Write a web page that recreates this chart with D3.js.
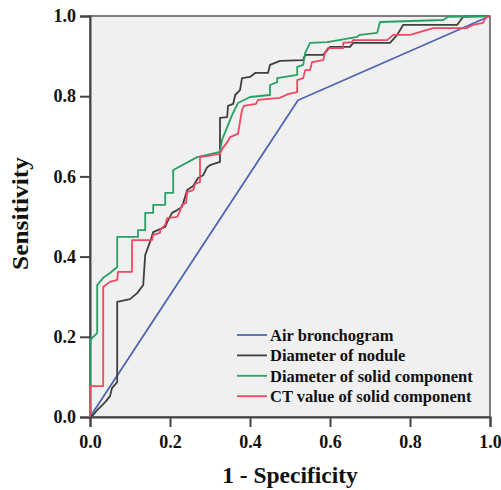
<!DOCTYPE html>
<html>
<head>
<meta charset="utf-8">
<script src="https://cdn.jsdelivr.net/npm/d3@7"></script>
<style>
  body { margin: 0; background: #fff; }
  text { font-family: "Liberation Serif", "DejaVu Serif", serif; font-weight: bold; }
</style>
</head>
<body>
<div id="chart"></div>
<script>
// ROC curves, [1 - specificity, sensitivity]
const airBronchogram = [[0, 0], [0.52, 0.79], [1, 1]];

const diameterNodule = [
  [0, 0], [0.008, 0.005], [0.018, 0.017], [0.038, 0.037], [0.05, 0.052], [0.055, 0.072],
  [0.068, 0.087], [0.068, 0.287], [0.1, 0.294], [0.118, 0.309], [0.133, 0.329], [0.138, 0.404],
  [0.15, 0.436], [0.158, 0.461], [0.188, 0.474], [0.193, 0.486], [0.205, 0.509], [0.218, 0.516],
  [0.23, 0.524], [0.243, 0.566], [0.258, 0.576], [0.27, 0.596], [0.283, 0.603], [0.293, 0.623],
  [0.3, 0.628], [0.325, 0.636], [0.325, 0.746], [0.343, 0.748], [0.345, 0.776], [0.358, 0.781],
  [0.363, 0.803], [0.375, 0.815], [0.38, 0.845], [0.4, 0.848], [0.413, 0.858], [0.445, 0.858],
  [0.45, 0.878], [0.475, 0.888], [0.533, 0.89], [0.538, 0.903], [0.583, 0.903], [0.6, 0.923],
  [0.65, 0.923], [0.658, 0.933], [0.75, 0.933], [0.768, 0.953], [0.783, 0.978], [0.918, 0.978],
  [0.933, 0.998], [1, 1]
];

const diameterSolid = [
  [0, 0], [0, 0.192], [0.018, 0.209], [0.018, 0.329], [0.033, 0.347], [0.05, 0.359],
  [0.068, 0.374], [0.068, 0.449], [0.12, 0.449], [0.12, 0.466], [0.138, 0.466], [0.138, 0.509],
  [0.158, 0.509], [0.158, 0.529], [0.188, 0.529], [0.188, 0.559], [0.208, 0.559], [0.208, 0.616],
  [0.268, 0.648], [0.325, 0.661], [0.33, 0.691], [0.343, 0.723], [0.355, 0.753], [0.37, 0.783],
  [0.4, 0.798], [0.45, 0.803], [0.45, 0.828], [0.468, 0.835], [0.468, 0.845], [0.518, 0.853],
  [0.518, 0.873], [0.533, 0.878], [0.538, 0.908], [0.55, 0.933], [0.593, 0.935], [0.668, 0.948],
  [0.675, 0.953], [0.718, 0.958], [0.725, 0.985], [0.883, 0.99], [0.895, 0.998], [1, 1]
];

const ctValueSolid = [
  [0, 0], [0, 0.077], [0.033, 0.077], [0.033, 0.324], [0.05, 0.337], [0.068, 0.342],
  [0.07, 0.362], [0.105, 0.362], [0.105, 0.441], [0.155, 0.441], [0.158, 0.454], [0.175, 0.459],
  [0.175, 0.466], [0.188, 0.479], [0.193, 0.496], [0.218, 0.499], [0.225, 0.514], [0.23, 0.529],
  [0.24, 0.534], [0.243, 0.561], [0.258, 0.566], [0.263, 0.581], [0.275, 0.586], [0.275, 0.648],
  [0.325, 0.656], [0.33, 0.668], [0.345, 0.688], [0.35, 0.698], [0.37, 0.706], [0.38, 0.766],
  [0.385, 0.776], [0.415, 0.781], [0.42, 0.791], [0.475, 0.796], [0.495, 0.805], [0.518, 0.81],
  [0.518, 0.84], [0.533, 0.845], [0.538, 0.865], [0.55, 0.865], [0.555, 0.885], [0.583, 0.89],
  [0.588, 0.91], [0.595, 0.92], [0.633, 0.92], [0.633, 0.933], [0.655, 0.935], [0.658, 0.94],
  [0.743, 0.94], [0.758, 0.953], [0.8, 0.953], [0.858, 0.97], [0.943, 0.97], [0.958, 0.978],
  [0.983, 0.983], [0.988, 0.995], [1, 1]
];

const seriesNames = ["Air bronchogram", "Diameter of nodule", "Diameter of solid component", "CT value of solid component"];
const seriesColors = ["#5064b2", "#3f3f3f", "#26a064", "#f04862"];
const tickValues = [0, 0.2, 0.4, 0.6, 0.8, 1.0];

const width = 501, height = 490;
const margin = { top: 16, right: 11, bottom: 73, left: 90 };

const svg = d3.select("#chart").append("svg")
  .attr("width", width)
  .attr("height", height);

const x = d3.scaleLinear().domain([0, 1]).range([margin.left, width - margin.right]);
const y = d3.scaleLinear().domain([0, 1]).range([height - margin.bottom, margin.top]);

// plot background + frame
svg.append("rect")
  .attr("x", x(0)).attr("y", y(1))
  .attr("width", x(1) - x(0)).attr("height", y(0) - y(1))
  .attr("fill", "#f0f0f0")
  .attr("stroke", "#555")
  .attr("stroke-width", 1.5);

const fmt = d3.format(".1f");

const xAxis = svg.append("g")
  .attr("transform", `translate(0,${y(0)})`)
  .call(d3.axisBottom(x).tickValues(tickValues).tickFormat(fmt).tickSize(10).tickPadding(8));
const yAxis = svg.append("g")
  .attr("transform", `translate(${x(0)},0)`)
  .call(d3.axisLeft(y).tickValues(tickValues).tickFormat(fmt).tickSize(10).tickPadding(4));

[xAxis, yAxis].forEach(a => {
  a.select(".domain").attr("stroke", "#444").attr("stroke-width", 2);
  a.selectAll(".tick line").attr("stroke", "#444").attr("stroke-width", 2);
  a.selectAll(".tick text")
    .attr("fill", "#111")
    .style("font-family", "'Liberation Serif', serif")
    .style("font-weight", "bold")
    .style("font-size", "18px");
});

// curves
const line = d3.line().x(d => x(d[0])).y(d => y(d[1]));
const curves = [airBronchogram, diameterNodule, diameterSolid, ctValueSolid];
svg.append("g")
  .selectAll("path")
  .data(curves)
  .join("path")
  .attr("d", line)
  .attr("fill", "none")
  .attr("stroke", (d, i) => seriesColors[i])
  .attr("stroke-width", 1.8)
  .attr("stroke-linejoin", "round");

// legend
const legend = svg.append("g")
  .selectAll("g")
  .data(seriesNames)
  .join("g")
  .attr("transform", (d, i) => `translate(237,${335 + i * 20.4})`);

legend.append("line")
  .attr("x1", 0).attr("x2", 30)
  .attr("stroke", (d, i) => seriesColors[i])
  .attr("stroke-width", 1.8);

legend.append("text")
  .attr("x", 33)
  .attr("dy", "0.35em")
  .attr("font-size", 16.5)
  .attr("fill", "#111")
  .text(d => d);

// axis titles
svg.append("text")
  .attr("x", (x(0) + x(1)) / 2)
  .attr("y", 483)
  .attr("text-anchor", "middle")
  .attr("font-size", 23.5)
  .attr("fill", "#111")
  .text("1 - Specificity");

svg.append("text")
  .attr("transform", `translate(28,${(y(0) + y(1)) / 2 - 3}) rotate(-90)`)
  .attr("text-anchor", "middle")
  .attr("font-size", 24)
  .attr("textLength", 113)
  .attr("lengthAdjust", "spacingAndGlyphs")
  .attr("fill", "#111")
  .text("Sensitivity");
</script>
</body>
</html>
